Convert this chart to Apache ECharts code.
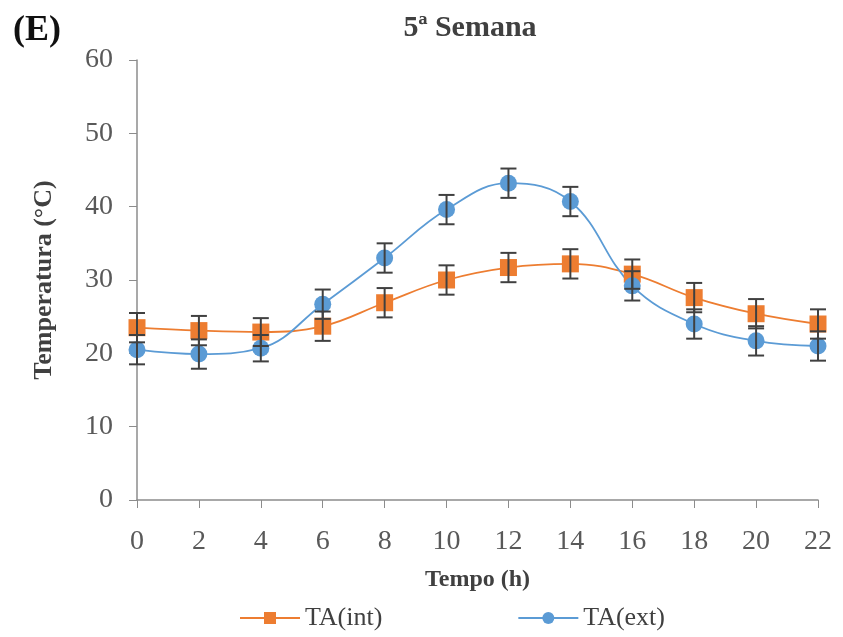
<!DOCTYPE html>
<html>
<head>
<meta charset="utf-8">
<script src="https://cdn.jsdelivr.net/npm/echarts@6/dist/echarts.min.js"></script>
<style>
  html, body { margin: 0; padding: 0; background: #fff; }
  #chart { width: 843px; height: 637px; }
</style>
</head>
<body>
<div id="chart"></div>
<script>
// Hour of day (x axis)
const hours = [0, 2, 4, 6, 8, 10, 12, 14, 16, 18, 20, 22];
// Air temperature inside (°C) and its error
const taInt = [23.5, 23.1, 22.9, 23.7, 26.9, 30.0, 31.7, 32.2, 30.8, 27.6, 25.4, 24.0];
const taIntErr = [2.0, 2.0, 1.9, 2.0, 2.0, 2.0, 2.0, 2.0, 2.0, 2.0, 2.0, 2.0];
// Air temperature outside (°C) and its error
const taExt = [20.5, 19.9, 20.7, 26.7, 33.0, 39.6, 43.2, 40.7, 29.2, 24.0, 21.7, 21.0];
const taExtErr = [2.0, 2.0, 1.8, 2.0, 2.0, 2.0, 2.0, 2.0, 2.0, 2.0, 2.0, 2.0];

const colInt = '#ED7D31';
const colExt = '#5B9BD5';
const serif = '"Liberation Serif", "DejaVu Serif", serif';

function pairs(vals) { return hours.map((h, i) => [h, vals[i]]); }
function errData(vals, errs) { return hours.map((h, i) => [h, vals[i] - errs[i], vals[i] + errs[i]]); }

// Error bar with caps, drawn in data coordinates
function errorBar(params, api) {
  const x = api.value(0);
  const lo = api.coord([x, api.value(1)]);
  const hi = api.coord([x, api.value(2)]);
  const cap = 8;
  const style = { stroke: '#404040', lineWidth: 2 };
  return {
    type: 'group',
    children: [
      { type: 'line', shape: { x1: lo[0], y1: lo[1], x2: hi[0], y2: hi[1] }, style },
      { type: 'line', shape: { x1: lo[0] - cap, y1: lo[1], x2: lo[0] + cap, y2: lo[1] }, style },
      { type: 'line', shape: { x1: hi[0] - cap, y1: hi[1], x2: hi[0] + cap, y2: hi[1] }, style }
    ]
  };
}

const chart = echarts.init(document.getElementById('chart'));
chart.setOption({
  backgroundColor: '#fff',
  animation: false,
  title: [
    { text: '5ª Semana', left: 465, top: 8, textAlign: 'center',
      textStyle: { fontFamily: serif, fontWeight: 'bold', fontSize: 30, color: '#404040' } },
    { text: '(E)', left: 8, top: 8,
      textStyle: { fontFamily: serif, fontWeight: 'bold', fontSize: 36, color: '#111' } }
  ],
  grid: { left: 137, right: 25, top: 60, bottom: 137, containLabel: false },
  legend: {
    bottom: 1, left: 234, itemGap: 135, itemWidth: 60, itemHeight: 15,
    textStyle: { fontFamily: serif, fontSize: 26, color: '#404040' },
    data: ['TA(int)', 'TA(ext)']
  },
  xAxis: {
    type: 'value', min: 0, max: 22, interval: 2,
    name: 'Tempo (h)', nameLocation: 'middle', nameGap: 68,
    nameTextStyle: { fontFamily: serif, fontWeight: 'bold', fontSize: 24, color: '#404040' },
    axisLine: { lineStyle: { color: '#8c8c8c', width: 1.5 } },
    axisTick: { show: true, length: 8, lineStyle: { color: '#8c8c8c' } },
    axisLabel: { fontFamily: serif, fontSize: 28, color: '#595959', margin: 28 },
    splitLine: { show: false }
  },
  yAxis: {
    type: 'value', min: 0, max: 60, interval: 10,
    name: 'Temperatura (°C)', nameLocation: 'middle', nameGap: 80,
    nameTextStyle: { fontFamily: serif, fontWeight: 'bold', fontSize: 26, color: '#404040' },
    axisLine: { show: true, lineStyle: { color: '#8c8c8c', width: 1.5 } },
    axisTick: { show: true, length: 8, lineStyle: { color: '#8c8c8c' } },
    axisLabel: { fontFamily: serif, fontSize: 28, color: '#595959', margin: 24 },
    splitLine: { show: false }
  },
  series: [
    {
      name: 'TA(int)', type: 'line', data: pairs(taInt), smooth: 0.4,
      symbol: 'rect', symbolSize: 17, z: 3,
      lineStyle: { color: colInt, width: 1.8 }, itemStyle: { color: colInt }
    },
    {
      name: 'TA(ext)', type: 'line', data: pairs(taExt), smooth: 0.4,
      symbol: 'circle', symbolSize: 17, z: 3,
      lineStyle: { color: colExt, width: 1.8 }, itemStyle: { color: colExt }
    },
    { name: 'errInt', type: 'custom', data: errData(taInt, taIntErr), renderItem: errorBar, z: 4, silent: true },
    { name: 'errExt', type: 'custom', data: errData(taExt, taExtErr), renderItem: errorBar, z: 4, silent: true }
  ]
});
</script>
</body>
</html>
